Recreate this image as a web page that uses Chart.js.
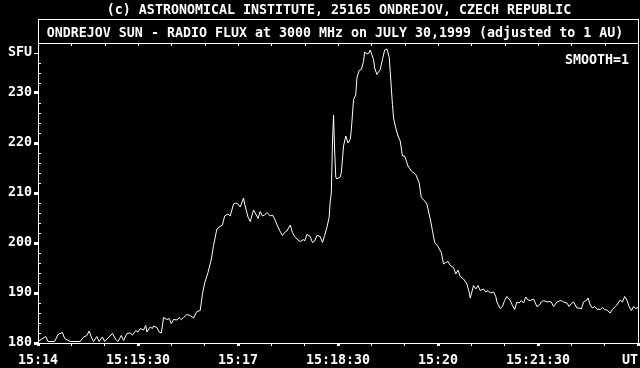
<!DOCTYPE html>
<html>
<head>
<meta charset="utf-8">
<title>Ondrejov Sun - Radio Flux 3000 MHz</title>
<script src="https://cdn.jsdelivr.net/npm/chart.js@4.4.1/dist/chart.umd.min.js"></script>
<style>
    html, body { margin: 0; padding: 0; background: #000; }
    canvas { display: block; }
</style>
</head>
<body>
<canvas id="fluxChart" width="640" height="368"></canvas>
<script>
// Thời gian (giây sau 15:14:00 UT) và thông lượng (SFU)
const seconds = [
    0, 7, 9, 15, 18, 22, 24, 29, 38, 41, 44, 46, 48, 50, 53, 55, 58, 60, 63, 67,
    70, 72, 75, 77, 80, 83, 85, 88, 90, 92, 95, 97, 98, 101, 103, 104, 107, 109, 111, 113,
    116, 118, 120, 122, 125, 127, 129, 131, 134, 137, 140, 143, 146, 148, 150, 153, 156, 158, 161, 163,
    166, 168, 171, 173, 176, 178, 180, 182, 185, 186, 189, 191, 194, 197, 198, 200, 202, 204, 206, 209,
    211, 213, 216, 218, 220, 222, 224, 227, 229, 231, 234, 236, 239, 240, 242, 245, 247, 249, 251, 254,
    256, 258, 260, 262, 263, 264, 265, 266, 267, 268, 269, 272, 273, 275, 277, 279, 281, 282, 284, 286,
    287, 289, 291, 293, 294, 296, 298, 299, 302, 303, 305, 308, 310, 312, 314, 316, 317, 319, 320, 322,
    324, 326, 328, 330, 333, 336, 340, 343, 345, 348, 350, 353, 355, 357, 360, 363, 365, 367, 369, 371,
    374, 376, 378, 380, 383, 386, 388, 389, 392, 394, 396, 398, 401, 403, 405, 407, 410, 412, 413, 416,
    418, 420, 422, 425, 427, 429, 431, 433, 435, 437, 439, 441, 443, 446, 449, 451, 453, 455, 458, 460,
    462, 464, 467, 469, 471, 473, 476, 478, 480, 482, 485, 487, 489, 491, 494, 495, 497, 499, 501, 503,
    506, 508, 510, 512, 515, 517, 519, 521, 524, 526, 528, 530, 532, 534, 536, 538, 540
];
const sfu = [
    180.3, 181.3, 180.3, 180.3, 181.7, 182.1, 180.9, 180.3, 180.3, 181.2, 181.5, 182.4, 181.2, 180.3, 181.3, 180.3, 181.2, 180.3, 181.0, 181.9,
    180.7, 180.3, 181.5, 180.5, 181.9, 182.0, 181.6, 182.5, 182.2, 182.9, 182.6, 183.5, 182.2, 183.2, 182.9, 183.4, 183.1, 182.2, 182.0, 185.1,
    184.7, 184.9, 183.9, 184.7, 184.6, 185.1, 184.7, 185.1, 185.7, 185.5, 185.0, 186.3, 186.5, 189.8, 192.0, 194.1, 196.8, 199.5, 202.8, 203.2,
    203.6, 205.4, 205.8, 205.4, 207.8, 208.0, 207.8, 207.2, 209.0, 207.8, 205.2, 204.3, 206.6, 205.4, 204.9, 206.3, 205.4, 205.6, 206.1, 205.4,
    205.6, 204.8, 203.2, 202.3, 201.5, 202.1, 202.4, 203.6, 202.1, 201.3, 200.6, 200.3, 200.7, 200.4, 201.7, 201.3, 200.1, 200.4, 201.5, 201.3,
    200.1, 201.5, 203.1, 205.1, 208.4, 210.0, 220.0, 225.6, 218.4, 213.2, 212.8, 213.2, 214.1, 219.4, 221.4, 220.0, 220.7, 222.7, 228.7, 229.6,
    233.0, 234.5, 234.7, 236.3, 238.2, 237.8, 238.0, 238.6, 236.7, 235.0, 233.7, 234.7, 236.7, 238.6, 238.8, 237.3, 234.3, 227.7, 225.0, 223.0,
    221.4, 220.4, 217.4, 217.4, 215.4, 214.4, 213.7, 212.1, 209.1, 208.4, 207.8, 204.8, 202.5, 200.1, 199.3, 198.1, 195.8, 196.1, 196.3, 195.5,
    195.1, 193.8, 194.6, 193.3, 192.8, 191.8, 190.2, 189.0, 191.5, 190.8, 191.5, 190.5, 190.8, 190.2, 190.5, 190.0, 190.2, 189.3, 188.2, 186.9,
    187.3, 188.5, 189.3, 188.5, 187.5, 186.7, 188.2, 188.0, 188.5, 188.0, 189.2, 188.6, 188.5, 188.8, 187.3, 187.5, 188.2, 188.5, 188.2, 188.3,
    188.2, 187.3, 188.2, 188.4, 188.5, 188.2, 188.0, 187.3, 187.9, 188.2, 187.0, 187.0, 186.8, 188.2, 188.6, 189.0, 187.6, 187.0, 187.3, 186.8,
    186.7, 187.1, 186.7, 186.6, 186.0, 186.7, 187.2, 187.6, 188.6, 188.2, 189.3, 188.6, 187.3, 186.5, 187.3, 186.9, 187.1
];

// Nhãn trục
const xMajorTicks = [0, 90, 180, 270, 360, 450, 540];
const xTickLabels = ['15:14', '15:15:30', '15:17', '15:18:30', '15:20', '15:21:30', 'UT'];
const yMajorTicks = [180, 190, 200, 210, 220, 230, 238];
const yTickLabels = ['180', '190', '200', '210', '220', '230', 'SFU'];

const copyrightText = '(c) ASTRONOMICAL INSTITUTE, 25165 ONDREJOV, CZECH REPUBLIC';
const titleText = 'ONDREJOV SUN - RADIO FLUX at 3000 MHz on JULY 30,1999 (adjusted to 1 AU)';
const smoothText = 'SMOOTH=1';

document.addEventListener("DOMContentLoaded", function () {
    const monoFont = { family: "'DejaVu Sans Mono', 'Liberation Mono', monospace", size: 13.3, weight: 'bold' };
    const fontCss = "bold 13.3px 'DejaVu Sans Mono', 'Liberation Mono', monospace";

    // Khung, vạch chia bên trong và các dòng chữ
    const framePlugin = {
        id: 'frame',
        afterDraw(chart) {
            const ctx = chart.ctx;
            const a = chart.chartArea;
            const xs = chart.scales.x;
            const ys = chart.scales.y;
            ctx.save();
            ctx.strokeStyle = '#fff';
            ctx.lineWidth = 1;
            ctx.strokeRect(a.left + 0.5, 19.5, a.right - a.left, a.bottom - 19);
            ctx.beginPath();
            ctx.moveTo(a.left, a.top + 0.5);
            ctx.lineTo(a.right + 1, a.top + 0.5);
            ctx.stroke();

            ctx.beginPath();
            for (let s = 30; s < 540; s += 30) {
                const px = Math.round(xs.getPixelForValue(s)) + 0.5;
                ctx.moveTo(px, a.top + 1);
                ctx.lineTo(px, a.top + 3);
            }
            for (let v = 182; v < 238; v += 2) {
                if (v % 10 === 0) continue;
                const py = Math.round(ys.getPixelForValue(v)) + 0.5;
                ctx.moveTo(a.left + 1, py);
                ctx.lineTo(a.left + 3, py);
            }
            ctx.stroke();

            ctx.fillStyle = '#fff';
            ctx.font = fontCss;
            ctx.textBaseline = 'alphabetic';
            ctx.textAlign = 'center';
            ctx.fillText(copyrightText, 339, 14);
            ctx.fillText(titleText, 335, 37);
            ctx.textAlign = 'right';
            ctx.fillText(smoothText, 629, 64);
            ctx.restore();
        }
    };

    const ctx = document.getElementById('fluxChart').getContext('2d');
    new Chart(ctx, {
        type: 'line',
        data: {
            datasets: [{
                data: seconds.map((s, i) => ({ x: s, y: sfu[i] })),
                borderColor: '#fff',
                borderWidth: 1,
                pointRadius: 0,
                fill: false,
                tension: 0
            }]
        },
        options: {
            responsive: false,
            animation: false,
            layout: { padding: { top: 43, right: 2, left: 0, bottom: 0 } },
            plugins: { legend: { display: false }, tooltip: { enabled: false } },
            scales: {
                x: {
                    type: 'linear',
                    min: 0,
                    max: 540,
                    afterBuildTicks: (scale) => {
                        scale.ticks = [];
                        for (let s = 0; s <= 540; s += 30) scale.ticks.push({ value: s });
                    },
                    afterFit: (scale) => {
                        scale.height = 25;
                        scale.paddingLeft = 0;
                        scale.paddingRight = 0;
                    },
                    ticks: {
                        color: '#fff',
                        font: monoFont,
                        padding: 7,
                        maxRotation: 0,
                        autoSkip: false,
                        callback: (v) => {
                            const i = xMajorTicks.indexOf(v);
                            if (i < 0) return '';
                            // "UT" nằm sát mép phải
                            return i === xMajorTicks.length - 1 ? xTickLabels[i] + '  ' : xTickLabels[i];
                        }
                    },
                    grid: {
                        drawOnChartArea: false,
                        tickLength: 3,
                        tickColor: '#fff',
                        tickWidth: (c) => (c.tick && xMajorTicks.includes(c.tick.value) ? 3 : 1)
                    },
                    border: { display: false }
                },
                y: {
                    min: 180,
                    max: 240,
                    afterBuildTicks: (scale) => {
                        scale.ticks = [];
                        for (let v = 180; v <= 238; v += 2) scale.ticks.push({ value: v });
                    },
                    afterFit: (scale) => {
                        scale.width = 38;
                        scale.paddingTop = 0;
                        scale.paddingBottom = 0;
                    },
                    ticks: {
                        color: '#fff',
                        font: monoFont,
                        padding: 2,
                        autoSkip: false,
                        callback: (v) => {
                            const i = yMajorTicks.indexOf(v);
                            return i < 0 ? '' : yTickLabels[i];
                        }
                    },
                    grid: {
                        drawOnChartArea: false,
                        tickLength: 4,
                        tickColor: (c) => (c.tick && yMajorTicks.includes(c.tick.value) ? '#fff' : 'rgba(0,0,0,0)'),
                        tickWidth: (c) => (c.tick && c.tick.value === 238 ? 1 : 3)
                    },
                    border: { display: false }
                }
            }
        },
        plugins: [framePlugin]
    });
});
</script>
</body>
</html>
